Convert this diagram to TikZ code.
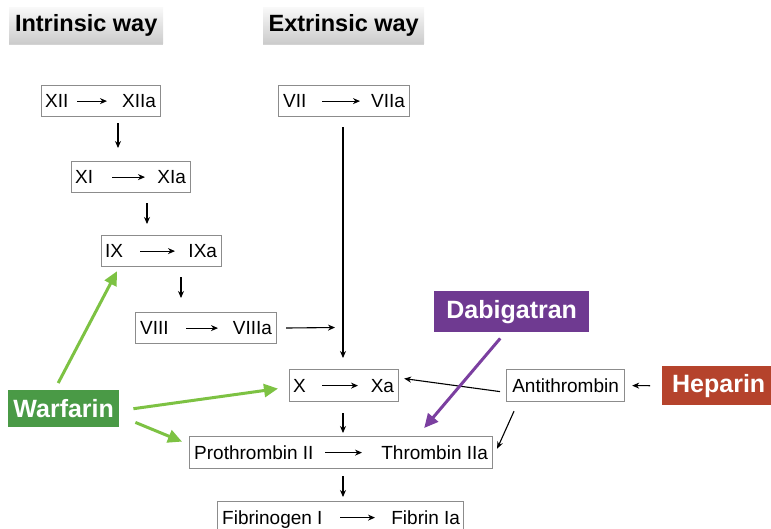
\documentclass[tikz,border=0pt]{standalone}
\usepackage{fontspec}
\setmainfont{Liberation Sans}
\usetikzlibrary{arrows.meta,calc,shadows}
\definecolor{boxgray}{HTML}{8C8C8C}
\definecolor{wgreen}{HTML}{4A9A46}
\definecolor{agreen}{HTML}{7DC243}
\definecolor{dpurple}{HTML}{6F3A91}
\definecolor{apurple}{HTML}{7B3FA0}
\definecolor{hred}{HTML}{B5432C}
\begin{document}
\begin{tikzpicture}[x=1pt,y=-1pt,
  box/.style={draw=boxgray,line width=1.2pt,inner sep=0pt,anchor=north west},
  lbl/.style={inner sep=0pt,font=\fontsize{19}{22}\selectfont},
  inarr/.style={line width=1.1pt,-{Stealth[length=7pt,width=6pt]}},
  arr/.style={line width=1.1pt,-{Stealth[length=7pt,width=6pt]}},
  garr/.style={draw=agreen,line width=3pt,-{Triangle[length=14pt,width=13pt]}},
  parr/.style={draw=apurple,line width=3pt,-{Triangle[length=14pt,width=13pt]}},
  hdr/.style={anchor=north west,inner sep=0pt,top color=gray!5,bottom color=gray!40,
    drop shadow={shadow xshift=0pt,shadow yshift=-2pt,opacity=0.35},
    font=\fontsize{23.5}{26}\selectfont\bfseries},
  drug/.style={anchor=north west,inner sep=0pt,text=white,font=\fontsize{25}{28}\selectfont\bfseries}
]
\useasboundingbox (0,0) rectangle (771,528);

% headers
\node[hdr,minimum width=154pt,minimum height=36pt] (intr) at (9,7) {Intrinsic way};
\node[hdr,minimum width=161pt,minimum height=36pt] (extr) at (263,7) {Extrinsic way};

% reaction boxes
\node[box,minimum width=119pt,minimum height=31pt] (xii) at (41,85) {};
\node[lbl,anchor=base west] (xiiL) at ($(xii.west)+(4,6.8)$) {XII};
\node[lbl,anchor=base east] (xiiR) at ($(xii.east)+(-5,6.8)$) {XIIa};
\draw[inarr] ($(xii.west)+(36,0)$) -- ($(xii.west)+(66,0)$);

\node[box,minimum width=131pt,minimum height=31pt] (vii) at (278,85) {};
\node[lbl,anchor=base west] (viiL) at ($(vii.west)+(5,6.8)$) {VII};
\node[lbl,anchor=base east] (viiR) at ($(vii.east)+(-5,6.8)$) {VIIa};
\draw[inarr] ($(vii.west)+(44,0)$) -- ($(vii.west)+(82,0)$);

\node[box,minimum width=119pt,minimum height=31pt] (xi) at (71,161) {};
\node[lbl,anchor=base west] (xiL) at ($(xi.west)+(4,6.8)$) {XI};
\node[lbl,anchor=base east] (xiR) at ($(xi.east)+(-5,6.8)$) {XIa};
\draw[inarr] ($(xi.west)+(41,0)$) -- ($(xi.west)+(74,0)$);

\node[box,minimum width=120pt,minimum height=31pt] (ix) at (101,235) {};
\node[lbl,anchor=base west] (ixL) at ($(ix.west)+(4,6.8)$) {IX};
\node[lbl,anchor=base east] (ixR) at ($(ix.east)+(-5,6.8)$) {IXa};
\draw[inarr] ($(ix.west)+(39,0)$) -- ($(ix.west)+(74,0)$);

\node[box,minimum width=141pt,minimum height=31pt] (viii) at (135,312) {};
\node[lbl,anchor=base west] (viiiL) at ($(viii.west)+(5,6.8)$) {VIII};
\node[lbl,anchor=base east] (viiiR) at ($(viii.east)+(-5,6.8)$) {VIIIa};
\draw[inarr] ($(viii.west)+(51,0)$) -- ($(viii.west)+(83,0)$);

\node[box,minimum width=109pt,minimum height=32pt] (x) at (289,369) {};
\node[lbl,anchor=base west] (xL) at ($(x.west)+(4,6.8)$) {X};
\node[lbl,anchor=base east] (xR) at ($(x.east)+(-5,6.8)$) {Xa};
\draw[inarr] ($(x.west)+(33,0)$) -- ($(x.west)+(69,0)$);

\node[box,minimum width=303pt,minimum height=32pt] (pro) at (189,436) {};
\node[lbl,anchor=base west] (proL) at ($(pro.west)+(5,6.8)$) {Prothrombin II};
\node[lbl,anchor=base east] (proR) at ($(pro.east)+(-5,6.8)$) {Thrombin IIa};
\draw[inarr] ($(pro.west)+(136,0)$) -- ($(pro.west)+(173,0)$);

\node[box,minimum width=246pt,minimum height=32pt] (fib) at (217,501) {};
\node[lbl,anchor=base west] (fibL) at ($(fib.west)+(5,6.8)$) {Fibrinogen I};
\node[lbl,anchor=base east] (fibR) at ($(fib.east)+(-4,6.8)$) {Fibrin Ia};
\draw[inarr] ($(fib.west)+(123,0)$) -- ($(fib.west)+(158,0)$);

\node[box,minimum width=118pt,minimum height=32pt] (anti) at (506,369) {};
\node[lbl] (antiT) at (anti.center) {Antithrombin};

% drugs
\node[drug,fill=wgreen,minimum width=111pt,minimum height=37pt] (war) at (8,390) {Warfarin};
\node[drug,fill=dpurple,minimum width=155pt,minimum height=41pt] (dab) at (434,291) {Dabigatran};
\node[drug,fill=hred,minimum width=113pt,minimum height=39pt] (hep) at (662,366) {Heparin};

% cascade connectors
\draw[arr,shorten <=6pt,shorten >=13pt] ($(xii.south west)+(77,0)$) -- ($(xi.north west)+(47,0)$);
\draw[arr,shorten <=10pt,shorten >=11pt] ($(xi.south west)+(76,0)$) -- ($(ix.north west)+(46,0)$);
\draw[arr,shorten <=10pt,shorten >=14pt] ($(ix.south west)+(80,0)$) -- ($(viii.north west)+(46,0)$);
\draw[arr,shorten <=10pt,shorten >=11pt] ($(vii.south west)+(65,0)$) -- ($(x.north west)+(54,0)$);
\coordinate (join) at ($(x.north west)+(46,-41.5)$);
\draw[arr,shorten <=9pt] (viii.east) -- (join);
\draw[arr,shorten <=11pt,shorten >=3pt] ($(x.south west)+(54,0)$) -- ($(pro.north west)+(154,0)$);
\draw[arr,shorten <=7pt,shorten >=4pt] ($(pro.south west)+(154,0)$) -- ($(fib.north west)+(126,0)$);

% antithrombin connectors
\draw[arr] ($(anti.west)+(-6,6)$) -- ($(x.east)+(5,-7)$);
\draw[arr] ($(anti.south west)+(8,9)$) -- ($(pro.east)+(4,-4)$);
\draw[arr] ($(hep.west)+(-12,0)$) -- ($(anti.east)+(7,0)$);

% drug arrows
\draw[parr] ($(dab.south)+(-11.5,6)$) -- ($(pro.north east)+(-69,-8)$);
\draw[garr] ($(war.north)+(-5.5,-7)$) -- ($(ix.south west)+(16,4)$);
\draw[garr] ($(war.east)+(14,0)$) -- ($(x.west)+(-11,3)$);
\draw[garr] ($(war.south east)+(16,-5)$) -- ($(pro.west)+(-7,-11)$);
\end{tikzpicture}
\end{document}
